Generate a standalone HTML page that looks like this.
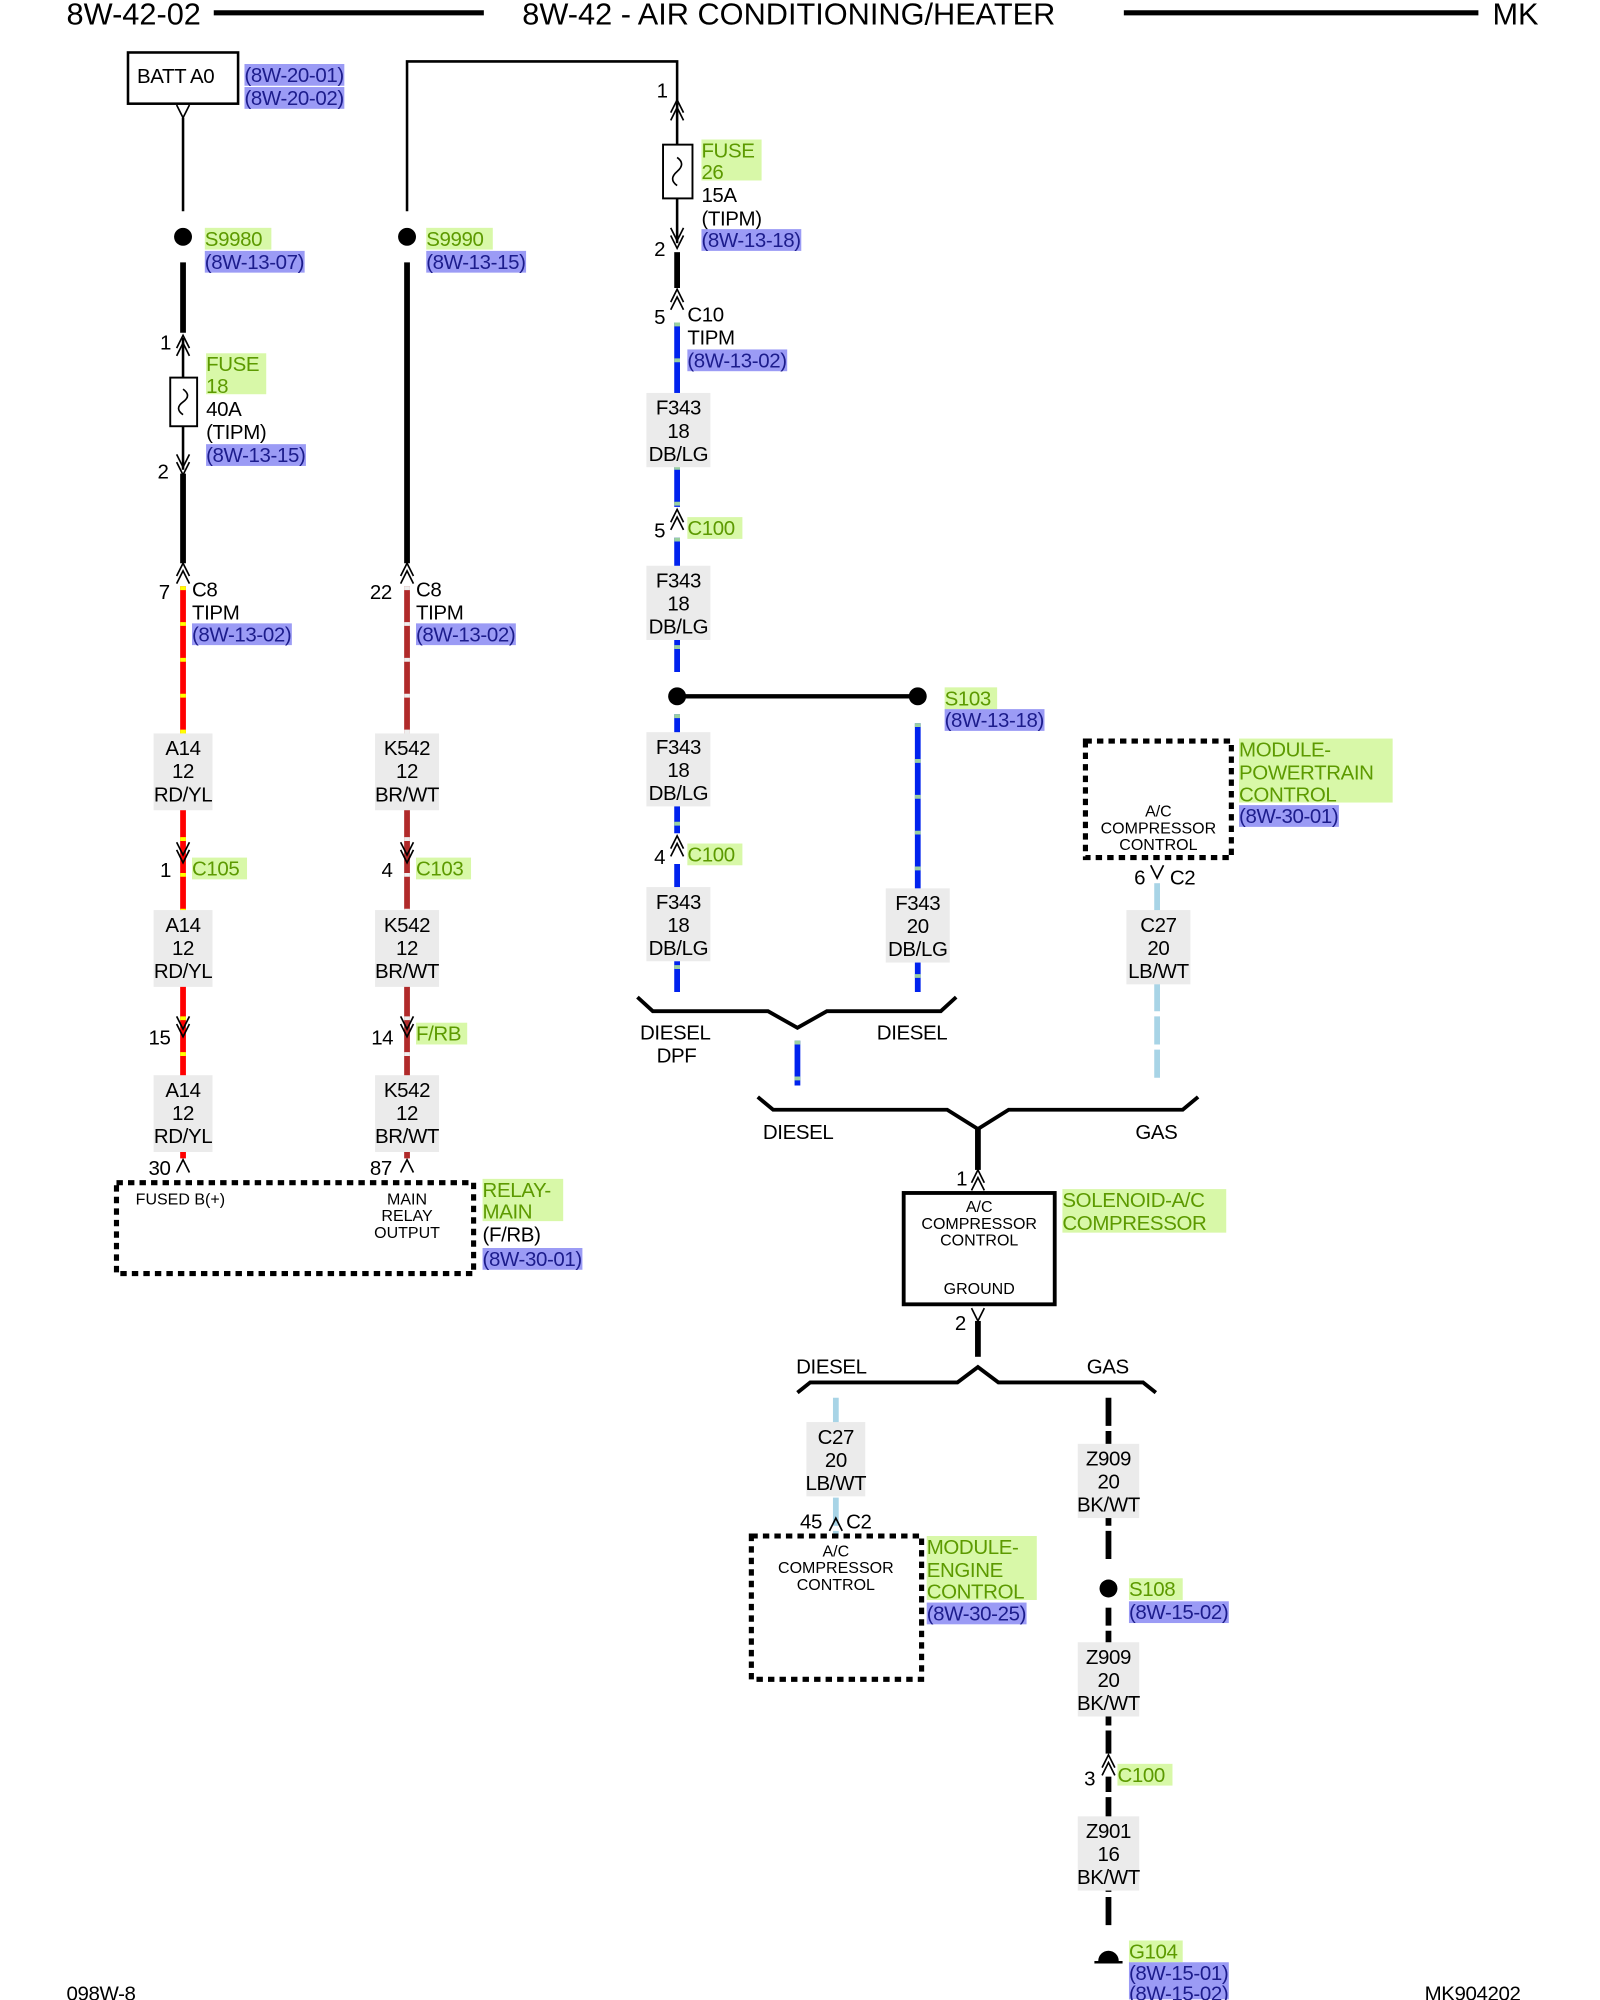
<!DOCTYPE html>
<html><head><meta charset="utf-8"><style>
html,body{margin:0;padding:0;background:#fff}
svg{display:block}
text{font-family:"Liberation Sans",sans-serif;font-size:16px;letter-spacing:-0.3px;fill:#000}
.g{fill:#5c9a00}.b{fill:#1c1c8c}.s{font-size:12.5px;letter-spacing:0}.c{text-anchor:middle}
.gb{fill:#d8f8a8}.bb{fill:#9b9bf5}.lb{fill:#ebebeb}
.th{stroke:#000;stroke-width:2;fill:none}.tk{stroke:#000;stroke-width:4.5;fill:none}
.ar{stroke:#000;stroke-width:1.3;fill:none}
.box{stroke:#000;stroke-width:4;fill:none;stroke-dasharray:5 4}
.h{font-size:24px;letter-spacing:0}
</style></head><body>
<svg width="1600" height="2000" viewBox="0 0 1250 1562.5" preserveAspectRatio="none" xmlns="http://www.w3.org/2000/svg">
<text x="52" y="19" class="h">8W-42-02</text>
<line x1="167" y1="10" x2="378" y2="10" stroke="#000" stroke-width="4"/>
<text x="408" y="19" class="h">8W-42 - AIR CONDITIONING/HEATER</text>
<line x1="878" y1="10" x2="1155" y2="10" stroke="#000" stroke-width="4"/>
<text x="1166" y="19" class="h">MK</text>
<text x="52" y="1563" style="font-size:16px">098W-8</text>
<text x="1113" y="1563" style="font-size:16px">MK904202</text>

<!-- LEFT column x=143 -->
<rect x="100" y="41" width="86" height="40" fill="none" stroke="#000" stroke-width="2"/>
<text x="107" y="65">BATT A0</text>
<rect x="191" y="50" width="78" height="17" class="bb"/><text x="191" y="64" class="b">(8W-20-01)</text>
<rect x="191" y="68" width="78" height="17" class="bb"/><text x="191" y="82" class="b">(8W-20-02)</text>
<path class="ar" d="M138,82 L143,92 L148,82"/>
<line class="th" x1="143" y1="92" x2="143" y2="165"/>
<circle cx="143" cy="185" r="7"/>
<rect x="160" y="178" width="52" height="17" class="gb"/><text x="160" y="192" class="g">S9980</text>
<rect x="160" y="196" width="78" height="17" class="bb"/><text x="160" y="210" class="b">(8W-13-07)</text>
<line class="tk" x1="143" y1="205" x2="143" y2="260"/>
<text x="125" y="273">1</text>
<path class="ar" d="M138,272 L143,262 L148,272 M138,278 L143,268 L148,278"/>
<line class="th" x1="143" y1="264" x2="143" y2="295"/>
<rect x="133" y="295" width="21" height="38" fill="#fff" stroke="#000" stroke-width="1.5"/>
<path class="ar" d="M143,304 Q150,309 143,314 Q136,319 143,324"/>
<line class="th" x1="143" y1="333" x2="143" y2="367"/>
<path class="ar" d="M138,355 L143,365 L148,355 M138,361 L143,371 L148,361"/>
<text x="123" y="374">2</text>
<rect x="161" y="276" width="47" height="32" class="gb"/>
<text x="161" y="290" class="g">FUSE</text><text x="161" y="307" class="g">18</text>
<text x="161" y="325">40A</text><text x="161" y="343">(TIPM)</text>
<rect x="161" y="347" width="78" height="17" class="bb"/><text x="161" y="361" class="b">(8W-13-15)</text>
<line class="tk" x1="143" y1="370" x2="143" y2="440"/>
<path class="ar" d="M138,450 L143,440 L148,450 M138,456 L143,446 L148,456"/>
<text x="124" y="468">7</text><text x="150" y="466">C8</text>
<text x="150" y="484">TIPM</text>
<rect x="150" y="487" width="78" height="17" class="bb"/><text x="150" y="501" class="b">(8W-13-02)</text>
<line x1="143" y1="458" x2="143" y2="905" stroke="#f00" stroke-width="4.5"/>
<line x1="143" y1="458" x2="143" y2="905" stroke="#ff0" stroke-width="4.5" stroke-dasharray="3 25"/>
<rect x="120" y="573" width="46" height="60" class="lb"/>
<text x="143" y="590" class="c">A14</text><text x="143" y="608" class="c">12</text><text x="143" y="626" class="c">RD/YL</text>
<path class="ar" d="M138,658 L143,668 L148,658 M138,664 L143,674 L148,664"/>
<text x="125" y="685">1</text>
<rect x="150" y="670" width="43" height="17" class="gb"/><text x="150" y="684" class="g">C105</text>
<rect x="120" y="711" width="46" height="60" class="lb"/>
<text x="143" y="728" class="c">A14</text><text x="143" y="746" class="c">12</text><text x="143" y="764" class="c">RD/YL</text>
<path class="ar" d="M138,794 L143,804 L148,794 M138,800 L143,810 L148,800"/>
<text x="116" y="816">15</text>
<rect x="120" y="840" width="46" height="60" class="lb"/>
<text x="143" y="857" class="c">A14</text><text x="143" y="875" class="c">12</text><text x="143" y="893" class="c">RD/YL</text>
<path class="ar" d="M138,916 L143,906 L148,916"/>
<text x="116" y="918">30</text>
<rect x="91" y="924" width="279" height="71" class="box"/>
<text x="106" y="941" class="s">FUSED B(+)</text>
<text x="318" y="941" class="s c">MAIN</text><text x="318" y="954" class="s c">RELAY</text><text x="318" y="967" class="s c">OUTPUT</text>
<rect x="377" y="921" width="63" height="33" class="gb"/>
<text x="377" y="935" class="g">RELAY-</text><text x="377" y="952" class="g">MAIN</text>
<text x="377" y="970">(F/RB)</text>
<rect x="377" y="975" width="78" height="17" class="bb"/><text x="377" y="989" class="b">(8W-30-01)</text>

<!-- second column x=318 -->
<path class="th" d="M318,165 L318,48 L529,48 L529,80"/>
<circle cx="318" cy="185" r="7"/>
<rect x="333" y="178" width="52" height="17" class="gb"/><text x="333" y="192" class="g">S9990</text>
<rect x="333" y="196" width="78" height="17" class="bb"/><text x="333" y="210" class="b">(8W-13-15)</text>
<line class="tk" x1="318" y1="205" x2="318" y2="440"/>
<path class="ar" d="M313,450 L318,440 L323,450 M313,456 L318,446 L323,456"/>
<text x="289" y="468">22</text><text x="325" y="466">C8</text>
<text x="325" y="484">TIPM</text>
<rect x="325" y="487" width="78" height="17" class="bb"/><text x="325" y="501" class="b">(8W-13-02)</text>
<line x1="318" y1="458" x2="318" y2="905" stroke="#b02a2a" stroke-width="4.5"/>
<line x1="318" y1="458" x2="318" y2="905" stroke="#eee" stroke-width="4.5" stroke-dasharray="3 25"/>
<rect x="293" y="573" width="50" height="60" class="lb"/>
<text x="318" y="590" class="c">K542</text><text x="318" y="608" class="c">12</text><text x="318" y="626" class="c">BR/WT</text>
<path class="ar" d="M313,658 L318,668 L323,658 M313,664 L318,674 L323,664"/>
<text x="298" y="685">4</text>
<rect x="325" y="670" width="43" height="17" class="gb"/><text x="325" y="684" class="g">C103</text>
<rect x="293" y="711" width="50" height="60" class="lb"/>
<text x="318" y="728" class="c">K542</text><text x="318" y="746" class="c">12</text><text x="318" y="764" class="c">BR/WT</text>
<path class="ar" d="M313,794 L318,804 L323,794 M313,800 L318,810 L323,800"/>
<text x="290" y="816">14</text>
<rect x="325" y="799" width="40" height="17" class="gb"/><text x="325" y="813" class="g">F/RB</text>
<rect x="293" y="840" width="50" height="60" class="lb"/>
<text x="318" y="857" class="c">K542</text><text x="318" y="875" class="c">12</text><text x="318" y="893" class="c">BR/WT</text>
<path class="ar" d="M313,916 L318,906 L323,916"/>
<text x="289" y="918">87</text>

<!-- third column x=529 -->
<text x="513" y="76">1</text>
<path class="ar" d="M524,88 L529,78 L534,88 M524,94 L529,84 L534,94"/>
<line class="th" x1="529" y1="80" x2="529" y2="113"/>
<rect x="518" y="113" width="23" height="42" fill="#fff" stroke="#000" stroke-width="1.5"/>
<path class="ar" d="M529,123 Q536,128 529,134 Q522,140 529,145"/>
<line class="th" x1="529" y1="155" x2="529" y2="190"/>
<path class="ar" d="M524,178 L529,188 L534,178 M524,184 L529,194 L534,184"/>
<text x="511" y="200">2</text>
<rect x="548" y="109" width="47" height="32" class="gb"/>
<text x="548" y="123" class="g">FUSE</text><text x="548" y="140" class="g">26</text>
<text x="548" y="158">15A</text><text x="548" y="176">(TIPM)</text>
<rect x="548" y="179" width="78" height="17" class="bb"/><text x="548" y="193" class="b">(8W-13-18)</text>
<line class="tk" x1="529" y1="197" x2="529" y2="225"/>
<path class="ar" d="M524,236 L529,226 L534,236 M524,242 L529,232 L534,242"/>
<text x="511" y="253">5</text><text x="537" y="251">C10</text>
<text x="537" y="269">TIPM</text>
<rect x="537" y="273" width="78" height="17" class="bb"/><text x="537" y="287" class="b">(8W-13-02)</text>
<line x1="529" y1="252" x2="529" y2="525" stroke="#0022ee" stroke-width="4.5"/>
<line x1="529" y1="252" x2="529" y2="525" stroke="#9ad0a0" stroke-width="4.5" stroke-dasharray="3 25"/>
<rect x="505" y="307" width="50" height="58" class="lb"/>
<text x="530" y="324" class="c">F343</text><text x="530" y="342" class="c">18</text><text x="530" y="360" class="c">DB/LG</text>
<rect x="522" y="396" width="14" height="24" fill="#fff"/>
<path class="ar" d="M524,408 L529,398 L534,408 M524,414 L529,404 L534,414"/>
<text x="511" y="420">5</text>
<rect x="537" y="404" width="43" height="17" class="gb"/><text x="537" y="418" class="g">C100</text>
<rect x="505" y="442" width="50" height="58" class="lb"/>
<text x="530" y="459" class="c">F343</text><text x="530" y="477" class="c">18</text><text x="530" y="495" class="c">DB/LG</text>
<line x1="529" y1="544" x2="717" y2="544" stroke="#000" stroke-width="3.5"/>
<circle cx="529" cy="544" r="7"/><circle cx="717" cy="544" r="7"/>
<rect x="738" y="537" width="41" height="17" class="gb"/><text x="738" y="551" class="g">S103</text>
<rect x="738" y="554" width="78" height="17" class="bb"/><text x="738" y="568" class="b">(8W-13-18)</text>
<line x1="529" y1="558" x2="529" y2="775" stroke="#0022ee" stroke-width="4.5"/>
<line x1="529" y1="558" x2="529" y2="775" stroke="#9ad0a0" stroke-width="4.5" stroke-dasharray="3 25"/>
<line x1="717" y1="565" x2="717" y2="775" stroke="#0022ee" stroke-width="4.5"/>
<line x1="717" y1="565" x2="717" y2="775" stroke="#9ad0a0" stroke-width="4.5" stroke-dasharray="3 25"/>
<rect x="505" y="572" width="50" height="58" class="lb"/>
<text x="530" y="589" class="c">F343</text><text x="530" y="607" class="c">18</text><text x="530" y="625" class="c">DB/LG</text>
<rect x="522" y="651" width="14" height="24" fill="#fff"/>
<path class="ar" d="M524,663 L529,653 L534,663 M524,669 L529,659 L534,669"/>
<text x="511" y="675">4</text>
<rect x="537" y="659" width="43" height="17" class="gb"/><text x="537" y="673" class="g">C100</text>
<rect x="505" y="693" width="50" height="58" class="lb"/>
<text x="530" y="710" class="c">F343</text><text x="530" y="728" class="c">18</text><text x="530" y="746" class="c">DB/LG</text>
<rect x="692" y="694" width="50" height="58" class="lb"/>
<text x="717" y="711" class="c">F343</text><text x="717" y="729" class="c">20</text><text x="717" y="747" class="c">DB/LG</text>
<path d="M498,779 L510,790 L600,790 L623,803 L646,790 L735,790 L747,779" fill="none" stroke="#000" stroke-width="3"/>
<text x="500" y="812">DIESEL</text><text x="513" y="830">DPF</text>
<text x="685" y="812">DIESEL</text>
<line x1="623" y1="813" x2="623" y2="848" stroke="#0022ee" stroke-width="4.5"/>
<line x1="623" y1="813" x2="623" y2="848" stroke="#9ad0a0" stroke-width="4.5" stroke-dasharray="3 25"/>
<!-- PCM -->
<rect x="848" y="579" width="114" height="91" class="box"/>
<text x="905" y="638" class="s c">A/C</text><text x="905" y="651" class="s c">COMPRESSOR</text><text x="905" y="664" class="s c">CONTROL</text>
<rect x="968" y="577" width="120" height="50" class="gb"/>
<text x="968" y="591" class="g">MODULE-</text><text x="968" y="609" class="g">POWERTRAIN</text><text x="968" y="626" class="g">CONTROL</text>
<rect x="968" y="629" width="78" height="17" class="bb"/><text x="968" y="643" class="b">(8W-30-01)</text>
<path class="ar" d="M899,676 L904,686 L909,676"/>
<text x="886" y="691">6</text><text x="914" y="691">C2</text>
<line x1="904" y1="690" x2="904" y2="845" stroke="#a8d4e6" stroke-width="4.5" stroke-dasharray="22 4"/>
<rect x="880" y="711" width="50" height="58" class="lb"/>
<text x="905" y="728" class="c">C27</text><text x="905" y="746" class="c">20</text><text x="905" y="764" class="c">LB/WT</text>
<path d="M592,857 L604,867 L740,867 L764,882 L788,867 L924,867 L936,857" fill="none" stroke="#000" stroke-width="3"/>
<text x="596" y="890">DIESEL</text><text x="887" y="890">GAS</text>
<!-- solenoid -->
<line class="tk" x1="764" y1="882" x2="764" y2="914"/>
<path class="ar" d="M759,924 L764,914 L769,924 M759,930 L764,920 L769,930"/>
<text x="747" y="926">1</text>
<rect x="706" y="932" width="118" height="87" fill="none" stroke="#000" stroke-width="3"/>
<text x="765" y="947" class="s c">A/C</text><text x="765" y="960" class="s c">COMPRESSOR</text><text x="765" y="973" class="s c">CONTROL</text>
<text x="765" y="1011" class="s c">GROUND</text>
<rect x="830" y="929" width="128" height="34" class="gb"/>
<text x="830" y="943" class="g">SOLENOID-A/C</text><text x="830" y="961" class="g">COMPRESSOR</text>
<path class="ar" d="M759,1022 L764,1032 L769,1022"/>
<text x="746" y="1039">2</text>
<line class="tk" x1="764" y1="1032" x2="764" y2="1060"/>
<path d="M623,1088 L633,1080 L748,1080 L764,1068 L780,1080 L893,1080 L903,1088" fill="none" stroke="#000" stroke-width="3"/>
<text x="622" y="1073">DIESEL</text><text x="849" y="1073">GAS</text>
<!-- ECM branch -->
<line x1="653" y1="1092" x2="653" y2="1200" stroke="#a8d4e6" stroke-width="4.5" stroke-dasharray="22 4"/>
<rect x="630" y="1111" width="46" height="58" class="lb"/>
<text x="653" y="1128" class="c">C27</text><text x="653" y="1146" class="c">20</text><text x="653" y="1164" class="c">LB/WT</text>
<path class="ar" d="M648,1196 L653,1186 L658,1196"/>
<text x="625" y="1194">45</text><text x="661" y="1194">C2</text>
<rect x="587" y="1200" width="133" height="112" class="box"/>
<text x="653" y="1216" class="s c">A/C</text><text x="653" y="1229" class="s c">COMPRESSOR</text><text x="653" y="1242" class="s c">CONTROL</text>
<rect x="724" y="1200" width="86" height="50" class="gb"/>
<text x="724" y="1214" class="g">MODULE-</text><text x="724" y="1232" class="g">ENGINE</text><text x="724" y="1249" class="g">CONTROL</text>
<rect x="724" y="1252" width="78" height="17" class="bb"/><text x="724" y="1266" class="b">(8W-30-25)</text>
<!-- gas ground -->
<line x1="866" y1="1092" x2="866" y2="1530" stroke="#000" stroke-width="4.5" stroke-dasharray="22 4"/>
<rect x="842" y="1128" width="48" height="58" class="lb"/>
<text x="866" y="1145" class="c">Z909</text><text x="866" y="1163" class="c">20</text><text x="866" y="1181" class="c">BK/WT</text>
<rect x="855" y="1220" width="22" height="36" fill="#fff"/>
<circle cx="866" cy="1241" r="7"/>
<rect x="882" y="1233" width="42" height="17" class="gb"/><text x="882" y="1247" class="g">S108</text>
<rect x="882" y="1251" width="78" height="17" class="bb"/><text x="882" y="1265" class="b">(8W-15-02)</text>
<rect x="842" y="1283" width="48" height="58" class="lb"/>
<text x="866" y="1300" class="c">Z909</text><text x="866" y="1318" class="c">20</text><text x="866" y="1336" class="c">BK/WT</text>
<rect x="858" y="1370" width="16" height="18" fill="#fff"/>
<path class="ar" d="M861,1381 L866,1371 L871,1381 M861,1387 L866,1377 L871,1387"/>
<text x="847" y="1395">3</text>
<rect x="873" y="1378" width="43" height="17" class="gb"/><text x="873" y="1392" class="g">C100</text>
<rect x="842" y="1419" width="48" height="58" class="lb"/>
<text x="866" y="1436" class="c">Z901</text><text x="866" y="1454" class="c">16</text><text x="866" y="1472" class="c">BK/WT</text>
<rect x="855" y="1505" width="22" height="30" fill="#fff"/>
<path d="M858,1532 A8,8 0 0 1 874,1532 Z"/>
<line x1="855" y1="1533" x2="877" y2="1533" stroke="#000" stroke-width="2"/>
<rect x="882" y="1516" width="42" height="17" class="gb"/><text x="882" y="1530" class="g">G104</text>
<rect x="882" y="1533" width="78" height="17" class="bb"/><text x="882" y="1547" class="b">(8W-15-01)</text>
<rect x="882" y="1550" width="78" height="12" class="bb"/><text x="882" y="1563" class="b">(8W-15-02)</text>
</svg>
</body></html>
